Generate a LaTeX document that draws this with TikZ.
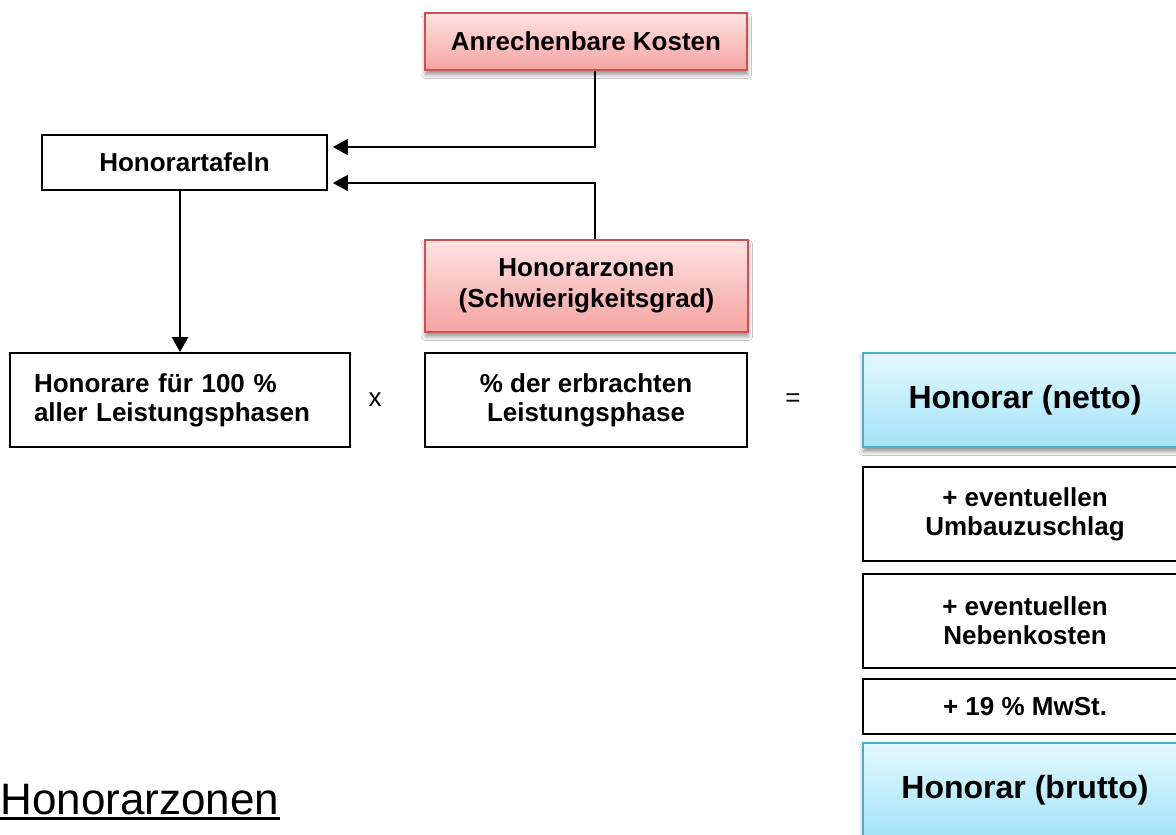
\documentclass[tikz,border=0pt]{standalone}
\usepackage{fontspec}
\setmainfont{Liberation Sans}
\usetikzlibrary{arrows.meta,calc,shadows.blur}

\definecolor{redline}{HTML}{C9514F}
\definecolor{redtop}{HTML}{FFE2E2}
\definecolor{redbottom}{HTML}{F4A3A2}
\definecolor{blueline}{HTML}{4BACC6}
\definecolor{bluetop}{HTML}{E2F8FE}
\definecolor{bluebottom}{HTML}{A4E3F7}

\tikzset{
  plainbox/.style={draw=black, line width=0.9pt, fill=white, align=center,
    font=\fontsize{13}{14.5}\selectfont\bfseries, inner sep=0pt},
  redbox/.style={draw=redline, line width=0.7pt, top color=redtop, bottom color=redbottom,
    align=center, font=\fontsize{13}{15.5}\selectfont\bfseries, inner sep=0pt,
    blur shadow={shadow xshift=0.2pt, shadow yshift=-2.2pt, shadow blur steps=6, shadow opacity=45}},
  bluebox/.style={draw=blueline, line width=0.7pt, top color=bluetop, bottom color=bluebottom,
    align=center, font=\fontsize{16}{18}\selectfont\bfseries, inner sep=0pt,
    blur shadow={shadow xshift=0.2pt, shadow yshift=-2.2pt, shadow blur steps=6, shadow opacity=45}},
  arr/.style={line width=1pt, -{Triangle[length=7.5pt,width=8pt]}},
  optext/.style={font=\fontsize{13}{14.5}\selectfont, inner sep=0pt}
}

\begin{document}
\begin{tikzpicture}[x=0.5pt,y=-0.5pt]
  \useasboundingbox (0,0) rectangle (1176,834);
  \clip (0,0) rectangle (1176,834);
  \fill[white] (0,0) rectangle (1176,834);

  % upper part: inputs of the fee tables
  \node[redbox, minimum width=161pt, minimum height=28.5pt] (ank) at (586,41.5) {Anrechenbare Kosten};
  \node[plainbox, minimum width=142.5pt, minimum height=27.5pt] (tafeln) at (184.5,162.5) {Honorartafeln};
  \node[redbox, minimum width=161.5pt, minimum height=46pt] (zonen) at (586.5,286) {Honorarzonen\\(Schwierigkeitsgrad)};

  % calculation row
  \node[plainbox, minimum width=170pt, minimum height=47pt, text width=146pt, align=left] (honorare) at (180,400)
    {Honorare für 100 \%\\aller Leistungsphasen};
  \node[optext] (mal) at (375,400) {x};
  \node[plainbox, minimum width=161pt, minimum height=47pt] (prozent) at (586,400) {\% der erbrachten\\Leistungsphase};
  \node[optext] (gleich) at (793,400) {=};
  \node[bluebox, minimum width=162pt, minimum height=47pt] (netto) at (1025,400) {Honorar (netto)};

  % surcharges down to the gross fee
  \node[plainbox, minimum width=162pt, minimum height=47pt] (umbau) at (1025,514) {+ eventuellen\\Umbauzuschlag};
  \node[plainbox, minimum width=162pt, minimum height=47pt] (neben) at (1025,621) {+ eventuellen\\Nebenkosten};
  \node[plainbox, minimum width=162pt, minimum height=27.5pt] (mwst) at (1025,706.5) {+ 19 \% MwSt.};
  \node[bluebox, minimum width=162pt, minimum height=47pt] (brutto) at (1025,790) {Honorar (brutto)};

  % connectors
  \coordinate (v) at (595,0);
  \draw[arr, shorten >=2.5pt] (ank.south -| v) |- ($(tafeln.east)+(0,-15.5)$);
  \draw[arr, shorten >=2.5pt] (zonen.north -| v) |- ($(tafeln.east)+(0,20.5)$);
  \draw[arr] (honorare.north |- tafeln.south) -- (honorare.north);

  % heading at the bottom left
  \node[anchor=base west, inner sep=0pt, font=\fontsize{22}{26}\selectfont] (hz) at (0,814) {Honorarzonen};
  \draw[line width=1.5pt] ($(hz.base west)+(0,4.5)$) -- ($(hz.base east)+(0,4.5)$);
\end{tikzpicture}
\end{document}
